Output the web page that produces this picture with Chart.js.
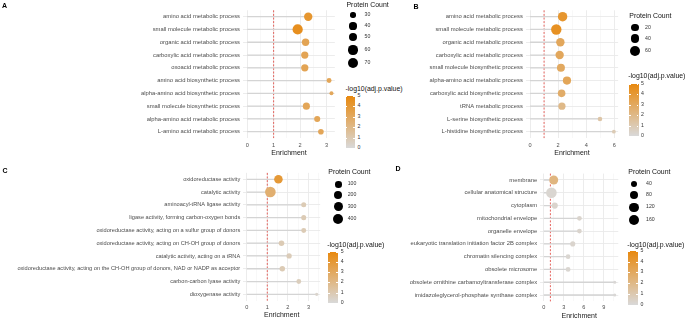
<!DOCTYPE html>
<html>
<head>
<meta charset="utf-8">
<script src="https://cdn.jsdelivr.net/npm/chart.js@4.4.1/dist/chart.umd.min.js"></script>
<style>
  body { margin: 0; width: 685px; height: 320px; position: relative; background: #fff; overflow: hidden;
         font-family: "Liberation Sans", Arial, sans-serif; }
  canvas { position: absolute; }
  .t { position: absolute; white-space: nowrap; line-height: 1; transform: translateY(-50%); }
  .dot { position: absolute; background: #000; border-radius: 50%; }
  .bar { position: absolute; }
  .tick { position: absolute; background: #fff; height: 0.6px; }
</style>
</head>
<body>
<script>
// Panel A - biological process
const termsA = ['amino acid metabolic process', 'small molecule metabolic process', 'organic acid metabolic process',
  'carboxylic acid metabolic process', 'oxoacid metabolic process', 'amino acid biosynthetic process',
  'alpha-amino acid biosynthetic process', 'small molecule biosynthetic process', 'alpha-amino acid metabolic process',
  'L-amino acid metabolic process'];
const enrichA = [2.31, 1.91, 2.21, 2.18, 2.18, 3.10, 3.19, 2.24, 2.65, 2.79];
const countA = [50, 72, 41, 40, 40, 29, 28, 39, 33, 31];
const logpA = [4.2, 4.6, 3.3, 3.3, 3.3, 3.2, 3.1, 3.2, 3.2, 3.2];
const sizeBreaksA = [30, 40, 50, 60, 70];
const xTicksA = [0, 1, 2, 3];

// Panel B
const termsB = ['amino acid metabolic process', 'small molecule metabolic process', 'organic acid metabolic process',
  'carboxylic acid metabolic process', 'small molecule biosynthetic process', 'alpha-amino acid metabolic process',
  'carboxylic acid biosynthetic process', 'tRNA metabolic process', 'L-serine biosynthetic process',
  'L-histidine biosynthetic process'];
const enrichB = [2.32, 1.87, 2.16, 2.11, 2.20, 2.63, 2.25, 2.27, 4.98, 5.97];
const countB = [51, 70, 36, 35, 30, 33, 25, 21, 4, 3];
const logpB = [4.2, 4.5, 3.1, 3.1, 3.0, 3.2, 2.8, 2.0, 1.25, 0.9];
const sizeBreaksB = [20, 40, 60];
const xTicksB = [0, 2, 4, 6];

// Panel C - molecular function
const termsC = ['oxidoreductase activity', 'catalytic activity', 'aminoacyl-tRNA ligase activity',
  'ligase activity, forming carbon-oxygen bonds', 'oxidoreductase activity, acting on a sulfur group of donors',
  'oxidoreductase activity, acting on CH-OH group of donors', 'catalytic activity, acting on a tRNA',
  'oxidoreductase activity, acting on the CH-OH group of donors, NAD or NADP as acceptor',
  'carbon-carbon lyase activity', 'dioxygenase activity'];
const enrichC = [1.54, 1.15, 2.77, 2.77, 2.77, 1.69, 2.06, 1.73, 2.53, 3.40];
const countC = [230, 430, 38, 38, 36, 55, 45, 50, 32, 12];
const logpC = [4.0, 2.6, 0.9, 0.9, 0.9, 0.9, 0.8, 0.9, 0.7, 0.3];
const sizeBreaksC = [100, 200, 300, 400];
const xTicksC = [0, 1, 2, 3];

// Panel D - cellular component
const termsD = ['membrane', 'cellular anatomical structure', 'cytoplasm', 'mitochondrial envelope', 'organelle envelope',
  'eukaryotic translation initiation factor 2B complex', 'chromatin silencing complex', 'obsolete microsome',
  'obsolete ornithine carbamoyltransferase complex', 'imidazoleglycerol-phosphate synthase complex'];
const enrichD = [1.50, 1.15, 1.65, 5.35, 5.35, 4.35, 3.65, 3.65, 10.65, 10.65];
const countD = [107, 175, 33, 12, 12, 16, 11, 13, 3, 3];
const logpD = [2.2, 0.2, 0.3, 0.3, 0.3, 0.3, 0.2, 0.2, 0.1, 0.1];
const sizeBreaksD = [40, 80, 120, 160];
const xTicksD = [0, 3, 6, 9];

const colorTicks = [0, 1, 2, 3, 4, 5];
const colorMax = 5;

// colour scale: grey -> orange
const lowCol = [217, 217, 217], highCol = [232, 137, 15];
function mix(v) {
  const t = Math.max(0, Math.min(1, v / colorMax));
  return 'rgb(' + lowCol.map((c, i) => Math.round(c + (highCol[i] - c) * t)).join(',') + ')';
}

// dashed reference line at enrichment = 1
const refLine = {
  id: 'refLine',
  beforeDatasetsDraw(chart) {
    const { ctx, chartArea: a, scales: { x } } = chart;
    const px = x.getPixelForValue(1);
    ctx.save();
    ctx.strokeStyle = '#E2504A';
    ctx.lineWidth = 0.9;
    ctx.setLineDash([2, 1.6]);
    ctx.beginPath();
    ctx.moveTo(px, a.top);
    ctx.lineTo(px, a.bottom);
    ctx.stroke();
    ctx.restore();
  }
};

function text(str, left, cy, size, color, bold) {
  const d = document.createElement('div');
  d.className = 't';
  d.textContent = str;
  d.style.left = left + 'px';
  d.style.top = cy + 'px';
  d.style.fontSize = size + 'px';
  d.style.color = color;
  if (bold) d.style.fontWeight = 'bold';
  document.body.appendChild(d);
}

function makePanel(p) {
  const cv = document.createElement('canvas');
  cv.width = p.w; cv.height = p.h;
  cv.style.left = p.left + 'px'; cv.style.top = p.top + 'px';
  document.body.appendChild(cv);

  const cmin = Math.min(...p.count), cmax = Math.max(...p.count);
  const rad = c => p.rMin + (p.rMax - p.rMin) * Math.sqrt(Math.max(0, (c - cmin) / (cmax - cmin)));

  const seg = [];
  p.terms.forEach((t, i) => { seg.push({ x: 0, y: t }, { x: p.enrich[i], y: t }, { x: null, y: null }); });
  const pts = p.terms.map((t, i) => ({ x: p.enrich[i], y: t }));

  const minor = (p.xTicks[1] - p.xTicks[0]) / 2;
  const allTicks = [];
  for (let v = Math.ceil(p.xMin / minor) * minor; v <= p.xMax + 1e-9; v += minor) allTicks.push(Math.round(v * 100) / 100);
  const isMajor = v => p.xTicks.includes(v);

  new Chart(cv, {
    type: 'scatter',
    data: {
      datasets: [
        { data: pts, order: 0,
          pointRadius: c => rad(p.count[c.dataIndex]),
          pointHoverRadius: c => rad(p.count[c.dataIndex]),
          backgroundColor: c => mix(p.logp[c.dataIndex]),
          borderWidth: 0 },
        { type: 'line', data: seg, order: 1, borderColor: '#D4D4D4', borderWidth: 1.3,
          pointRadius: 0, spanGaps: false, fill: false }
      ]
    },
    options: {
      responsive: false,
      animation: false,
      devicePixelRatio: 1,
      events: [],
      layout: { padding: { top: p.padTop, right: p.padRight, left: 0, bottom: 0 } },
      plugins: { legend: { display: false }, tooltip: { enabled: false } },
      scales: {
        x: {
          type: 'linear', min: p.xMin, max: p.xMax,
          afterBuildTicks: s => { s.ticks = allTicks.map(v => ({ value: v })); },
          afterFit: s => { s.height = p.xH; },
          border: { display: false },
          grid: {
            drawTicks: false,
            color: c => isMajor(c.tick.value) ? '#EAEAEA' : '#F3F3F3',
            lineWidth: c => isMajor(c.tick.value) ? 0.9 : 0.6
          },
          ticks: {
            autoSkip: false, maxRotation: 0, padding: p.tickPad,
            color: '#4D4D4D', font: { size: 5.6, family: 'Liberation Sans' },
            callback: v => isMajor(v) ? String(v) : ''
          },
          title: {
            display: true, text: 'Enrichment', color: '#1A1A1A',
            font: { size: 7, family: 'Liberation Sans', lineHeight: 1.2 },
            padding: { top: 0, bottom: p.titlePad }
          }
        },
        y: {
          type: 'category', labels: p.terms, offset: true,
          afterFit: s => { s.width = p.yW; },
          border: { display: false },
          grid: { drawTicks: false, offset: false, color: '#EAEAEA', lineWidth: 0.9 },
          ticks: { autoSkip: false, padding: 3, color: '#4D4D4D', font: { size: p.labSize, family: 'Liberation Sans' } }
        }
      }
    },
    plugins: [refLine]
  });

  // panel letter
  text(p.id, p.letter[0], p.letter[1], 7, '#000', true);

  // size legend
  const L = p.leg;
  text('Protein Count', L.x, L.titleY, 6.9, '#111');
  p.breaks.forEach((b, i) => {
    const r = rad(b);
    const d = document.createElement('div');
    d.className = 'dot';
    d.style.left = (L.cx - r) + 'px'; d.style.top = (L.cy[i] - r) + 'px';
    d.style.width = (2 * r) + 'px'; d.style.height = (2 * r) + 'px';
    document.body.appendChild(d);
    text(String(b), L.labX, L.cy[i], 5.2, '#333');
  });

  // colour bar
  text('-log10(adj.p.value)', L.x - 1, L.cbTitleY, 6.9, '#111');
  const bar = document.createElement('div');
  bar.className = 'bar';
  bar.style.left = L.barX + 'px'; bar.style.top = L.barTop + 'px';
  bar.style.width = L.barW + 'px'; bar.style.height = L.barH + 'px';
  bar.style.background = 'linear-gradient(to top,' + colorTicks.map(v => mix(v)).join(',') + ')';
  document.body.appendChild(bar);
  colorTicks.forEach(v => {
    const y = L.barTop + (1 - v / colorMax) * L.barH;
    [0, L.barW * 0.8].forEach(off => {
      const tk = document.createElement('div');
      tk.className = 'tick';
      tk.style.left = (L.barX + off) + 'px'; tk.style.top = y + 'px'; tk.style.width = (L.barW * 0.2) + 'px';
      document.body.appendChild(tk);
    });
    text(String(v), L.barX + L.barW + 2.5, y, 5.2, '#333');
  });
}

makePanel({ id: 'A', terms: termsA, enrich: enrichA, count: countA, logp: logpA, breaks: sizeBreaksA, xTicks: xTicksA,
  left: 0, top: 0, w: 340, h: 160, yW: 243, padRight: 4, padTop: 10.3, xH: 21.9, xMin: -0.16, xMax: 3.32,
  tickPad: 4, titlePad: 2.5, labSize: 5.85, rMin: 2, rMax: 5.1, letter: [2, 4.5],
  leg: { x: 346.5, titleY: 4.5, cx: 353, cy: [15, 26, 37.3, 50, 63.3], labX: 364.5, cbTitleY: 89.3,
         barX: 345.5, barTop: 95.5, barW: 9.5, barH: 52.5 } });

makePanel({ id: 'B', terms: termsB, enrich: enrichB, count: countB, logp: logpB, breaks: sizeBreaksB, xTicks: xTicksB,
  left: 340, top: 0, w: 345, h: 160, yW: 185.8, padRight: 66.9, padTop: 10.3, xH: 21.9, xMin: -0.3, xMax: 6.27,
  tickPad: 4, titlePad: 2.5, labSize: 5.85, rMin: 1.9, rMax: 5.2, letter: [413.5, 6],
  leg: { x: 629.3, titleY: 16, cx: 635, cy: [27.7, 38.7, 51], labX: 645, cbTitleY: 76,
         barX: 629, barTop: 83.5, barW: 9.5, barH: 52.5 } });

makePanel({ id: 'C', terms: termsC, enrich: enrichC, count: countC, logp: logpC, breaks: sizeBreaksC, xTicks: xTicksC,
  left: 0, top: 160, w: 340, h: 160, yW: 243.2, padRight: 19.8, padTop: 12.9, xH: 19.3, xMin: -0.17, xMax: 3.57,
  tickPad: 3, titlePad: 0.5, labSize: 5.65, rMin: 1.6, rMax: 5.3, letter: [2.5, 169.5],
  leg: { x: 328.3, titleY: 172.3, cx: 338.3, cy: [184.3, 195.3, 206.7, 219.3], labX: 347.7, cbTitleY: 245,
         barX: 328.3, barTop: 251.5, barW: 10, barH: 51.5 } });

makePanel({ id: 'D', terms: termsD, enrich: enrichD, count: countD, logp: logpD, breaks: sizeBreaksD, xTicks: xTicksD,
  left: 340, top: 160, w: 345, h: 160, yW: 200.2, padRight: 66.7, padTop: 13.6, xH: 18.6, xMin: -0.53, xMax: 11.18,
  tickPad: 2.3, titlePad: 0, labSize: 5.85, rMin: 1.5, rMax: 5.3, letter: [395.5, 168],
  leg: { x: 628.3, titleY: 171.7, cx: 634, cy: [184, 195.3, 207.3, 220], labX: 646, cbTitleY: 245,
         barX: 628, barTop: 251, barW: 10, barH: 53.5 } });
</script>
</body>
</html>
